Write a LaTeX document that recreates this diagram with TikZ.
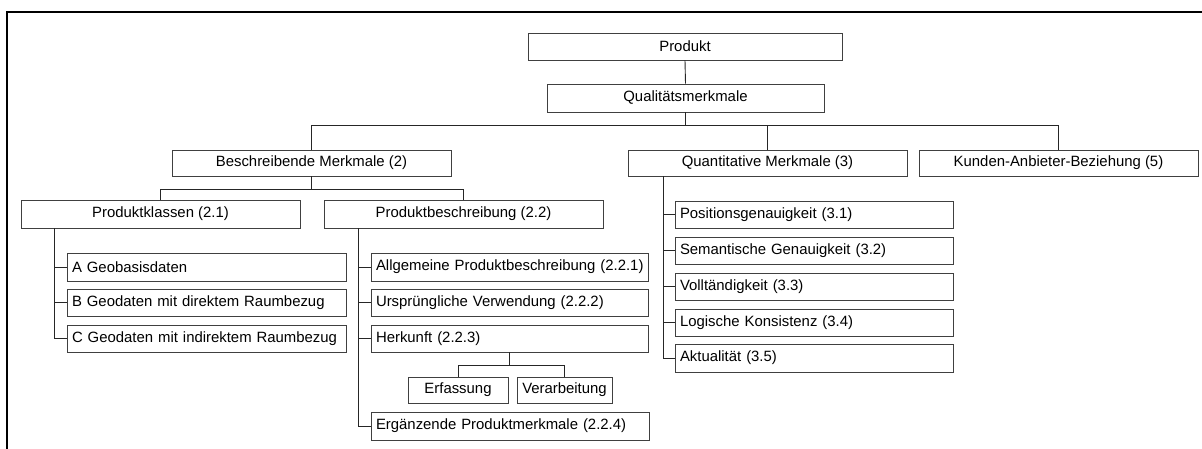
\documentclass[tikz,border=0pt]{standalone}
\usepackage{fontspec}
\setmainfont{Liberation Sans}
\begin{document}
\begin{tikzpicture}[x=1pt,y=-1pt,
  box/.style={draw=black!75,line width=0.9pt,fill=white,inner sep=0pt,
    font=\fontsize{14.9}{17}\selectfont},
  link/.style={draw=black!85,line width=0.9pt}]
\useasboundingbox (0,0) rectangle (1202,448);
% frame (top and left sides)
\draw[line width=2pt] (7,452) -- (7,12) -- (1206,12);

% centred box: name, x1, y1, x2, y2, text
\newcommand{\cbox}[6]{%
  \pgfmathsetmacro{\bw}{#4-#2}\pgfmathsetmacro{\bh}{#5-#3}%
  \node[box,minimum width=\bw pt,minimum height=\bh pt] (#1) at ({(#2+#4)/2},{(#3+#5)/2}) {#6};}
% left-aligned box
\newcommand{\lbox}[6]{%
  \pgfmathsetmacro{\bw}{#4-#2}\pgfmathsetmacro{\bh}{#5-#3}%
  \node[box,minimum width=\bw pt,minimum height=\bh pt,text width=\bw pt-10pt,
    inner xsep=5pt,align=left] (#1) at ({(#2+#4)/2},{(#3+#5)/2}) {\mbox{#6}};}

\cbox{produkt}{528}{33}{842}{60}{Produkt}
\cbox{qual}{547}{84}{824}{112}{Qualitätsmerkmale}
\cbox{besch}{172}{150}{451}{176}{Beschreibende Merkmale (2)}
\cbox{quant}{628}{150}{907}{176}{Quantitative Merkmale (3)}
\cbox{kunden}{919}{150}{1198}{176}{Kunden-Anbieter-Beziehung (5)}
\cbox{pk}{21}{200}{300}{228}{Produktklassen (2.1)}
\cbox{pb}{324}{200}{603}{228}{Produktbeschreibung (2.2)}

\lbox{ka}{67}{253}{346}{281}{A Geobasisdaten}
\lbox{kb}{67}{289}{346}{316}{B Geodaten mit direktem Raumbezug}
\lbox{kc}{67}{325}{346}{352}{C Geodaten mit indirektem Raumbezug}

\lbox{allg}{371}{253}{648}{281}{Allgemeine Produktbeschreibung (2.2.1)}
\lbox{ursp}{371}{289}{648}{316}{Ursprüngliche Verwendung (2.2.2)}
\lbox{herk}{371}{325}{648}{352}{Herkunft (2.2.3)}
\cbox{erf}{408}{377}{508}{403}{Erfassung}
\cbox{verarb}{517}{377}{612}{403}{Verarbeitung}
\lbox{erg}{371}{412}{649}{440}{Ergänzende Produktmerkmale (2.2.4)}

\lbox{pos}{675}{201}{953}{228}{Positionsgenauigkeit (3.1)}
\lbox{sem}{675}{237}{953}{264}{Semantische Genauigkeit (3.2)}
\lbox{voll}{675}{273}{953}{300}{Volltändigkeit (3.3)}
\lbox{logk}{675}{309}{953}{336}{Logische Konsistenz (3.4)}
\lbox{akt}{675}{344}{953}{372}{Aktualität (3.5)}

% bus lines and trunks
\coordinate (bus1) at (0,125);
\coordinate (bus2) at (0,189);
\coordinate (bus3) at (0,365);
\coordinate (pktrunk) at (54,228);
\coordinate (pbtrunk) at (358.5,228);
\coordinate (qtrunk) at (663,176);

\draw[link] (produkt.south) -- (qual.north);
\draw[link] (qual.south) -- (qual.south |- bus1);
\draw[link] (besch.north) |- (kunden.north |- bus1) -- (kunden.north);
\draw[link] (quant.north) -- (quant.north |- bus1);

\draw[link] (besch.south) -- (besch.south |- bus2);
\draw[link] (pk.north) |- (pb.north |- bus2) -- (pb.north);

\draw[link] (pktrunk) |- (kc.west);
\draw[link] (pktrunk |- ka.west) -- (ka.west);
\draw[link] (pktrunk |- kb.west) -- (kb.west);

\draw[link] (pbtrunk) |- (erg.west);
\draw[link] (pbtrunk |- allg.west) -- (allg.west);
\draw[link] (pbtrunk |- ursp.west) -- (ursp.west);
\draw[link] (pbtrunk |- herk.west) -- (herk.west);

\draw[link] (herk.south) -- (herk.south |- bus3);
\draw[link] (erf.north) |- (verarb.north |- bus3) -- (verarb.north);

\draw[link] (qtrunk) |- (akt.west);
\draw[link] (qtrunk |- pos.west) -- (pos.west);
\draw[link] (qtrunk |- sem.west) -- (sem.west);
\draw[link] (qtrunk |- voll.west) -- (voll.west);
\draw[link] (qtrunk |- logk.west) -- (logk.west);
\end{tikzpicture}
\end{document}
